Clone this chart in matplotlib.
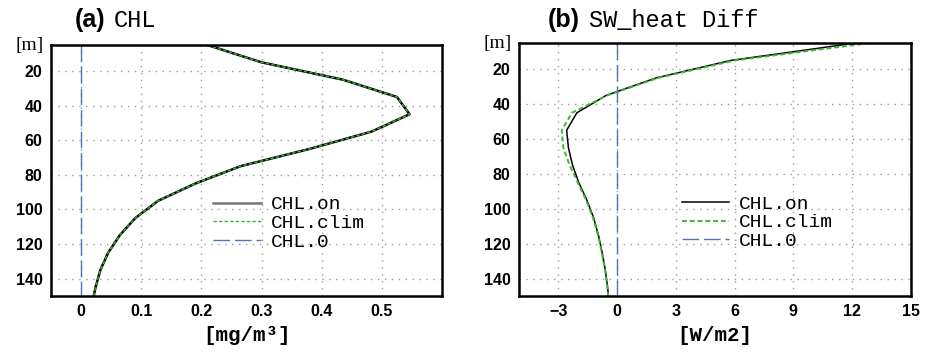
import matplotlib
matplotlib.use("Agg")
import matplotlib.pyplot as plt
import numpy as np

# depth levels [m]
depth = [5, 15, 25, 35, 45, 55, 65, 75, 85, 95, 105, 115, 125, 135, 145, 155]

# (a) chlorophyll profile [mg/m3]
chl_on = [0.21, 0.30, 0.435, 0.525, 0.546, 0.483, 0.38, 0.265, 0.19, 0.128,
          0.09, 0.064, 0.045, 0.032, 0.024, 0.018]
chl_clim = [0.21, 0.30, 0.435, 0.525, 0.546, 0.483, 0.38, 0.265, 0.19, 0.128,
            0.09, 0.064, 0.045, 0.032, 0.024, 0.018]
chl_zero = [0.0] * len(depth)

# (b) shortwave heating difference [W/m2]
sw_on = [12.2, 5.8, 2.0, -0.55, -2.05, -2.57, -2.48, -2.27, -1.95, -1.54,
         -1.2, -0.95, -0.76, -0.6, -0.48, -0.4]
sw_clim = [12.9, 6.0, 2.1, -0.5, -2.3, -2.82, -2.74, -2.42, -2.0, -1.58,
           -1.23, -0.97, -0.78, -0.61, -0.49, -0.41]
sw_zero = [0.0] * len(depth)

yticks = [20, 40, 60, 80, 100, 120, 140]
xticks_a = [0, 0.1, 0.2, 0.3, 0.4, 0.5]
xticks_b = [-3, 0, 3, 6, 9, 12, 15]

BLUE = "#4f74b8"
GREEN = "#3cb832"
MONO = "Liberation Mono"
SANS = "Liberation Sans"

fig = plt.figure(figsize=(9.31, 3.56), dpi=100)
ax_a = fig.add_axes([0.0548, 0.1685, 0.420, 0.705])
ax_b = fig.add_axes([0.5575, 0.1685, 0.421, 0.7107])


def style(ax, xticks, xlim, xlabel):
    ax.set_ylim(150, 5)
    ax.set_xlim(*xlim)
    ax.set_yticks(yticks)
    ax.set_xticks(xticks)
    ax.set_xticklabels([f"{t:g}".replace("-", "\u2212") for t in xticks])
    for lab in ax.get_xticklabels() + ax.get_yticklabels():
        lab.set_fontfamily(SANS)
        lab.set_fontweight("bold")
        lab.set_fontsize(11.5)
    ax.tick_params(length=0, pad=6)
    ax.grid(True, color="#999999", linestyle=(0, (1, 4)), linewidth=1.0)
    for s in ax.spines.values():
        s.set_linewidth(1.8)
    ax.set_xlabel(xlabel, fontfamily=MONO, fontweight="bold", fontsize=15, labelpad=5)
    ax.text(-0.018, 1.0, "[m]", transform=ax.transAxes, ha="right", va="center",
            fontfamily="Liberation Serif", fontsize=14)


def add_legend(ax, handles, labels):
    ax.legend(handles, labels, loc="center left", bbox_to_anchor=(0.415, 0.29),
              frameon=False, prop={"family": MONO, "size": 14}, handlelength=2.45,
              handletextpad=0.5, labelspacing=0.05, borderpad=0, borderaxespad=0)


# panel a
ax_a.plot(chl_on, depth, color="black", lw=1.8, label="CHL.on")
ax_a.plot(chl_clim, depth, color=GREEN, lw=1.0, linestyle=(0, (2.5, 1.5)), label="CHL.clim")
ax_a.plot(chl_zero, depth, color=BLUE, lw=1.0, linestyle=(0, (12, 3.5)), label="CHL.0")
style(ax_a, xticks_a, (-0.05, 0.6), "[mg/m\u00b3]")
h, l = ax_a.get_legend_handles_labels()
h[0] = plt.Line2D([], [], color="#777777", lw=1.8)
add_legend(ax_a, h, l)

# panel b
ax_b.plot(sw_on, depth, color="black", lw=1.1, label="CHL.on")
ax_b.plot(sw_clim, depth, color=GREEN, lw=1.4, linestyle=(0, (2.5, 1.5)), label="CHL.clim")
ax_b.plot(sw_zero, depth, color=BLUE, lw=1.0, linestyle=(0, (12, 3.5)), label="CHL.0")
style(ax_b, xticks_b, (-5, 15), "[W/m2]")
h, l = ax_b.get_legend_handles_labels()
add_legend(ax_b, h, l)

# panel titles
fig.text(0.080, 0.943, "(a)", fontfamily=SANS, fontweight="bold", fontsize=18, va="center")
fig.text(0.122, 0.943, "CHL", fontfamily=MONO, fontsize=17, va="center")
fig.text(0.588, 0.943, "(b)", fontfamily=SANS, fontweight="bold", fontsize=18, va="center")
fig.text(0.633, 0.943, "SW_heat Diff", fontfamily=MONO, fontsize=17, va="center")

fig.savefig("out.png", dpi=100)
